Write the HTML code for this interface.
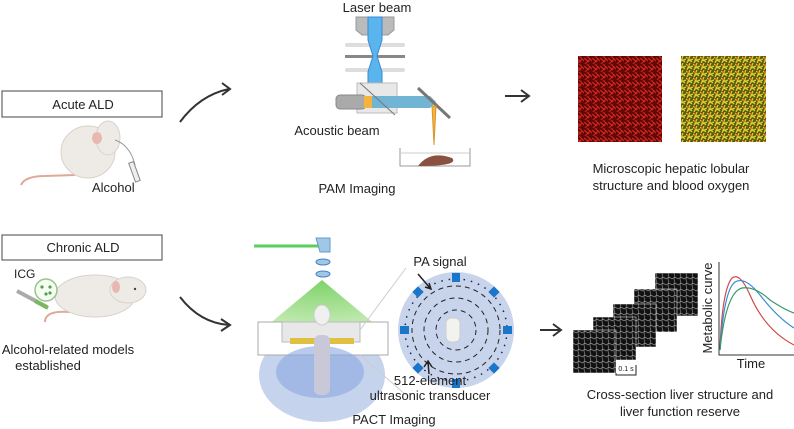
<!DOCTYPE html>
<html><head><meta charset="utf-8"><style>
body{margin:0;background:#fff}
svg{display:block;font-family:"Liberation Sans",sans-serif}
</style></head><body>
<svg width="794" height="429" viewBox="0 0 794 429">
<defs>
<radialGradient id="gc" cx="50%" cy="0%" r="100%"><stop offset="0" stop-color="#7fd36a"/><stop offset="1" stop-color="#c8ecb8"/></radialGradient>
<pattern id="red" width="8" height="8" patternUnits="userSpaceOnUse"><rect width="8" height="8" fill="#5a0a08"/><path d="M0 2L5 6M3 0L8 5M1 8L6 3" stroke="#d8201a" stroke-width="1.2"/></pattern>
<pattern id="yel" width="7" height="7" patternUnits="userSpaceOnUse"><rect width="7" height="7" fill="#5a5a10"/><path d="M0 1L6 6M4 0L1 7M7 3L2 5" stroke="#d8d030" stroke-width="1.3"/><path d="M2 0L2 3" stroke="#c83018" stroke-width="1"/></pattern>
<pattern id="liv" width="6" height="6" patternUnits="userSpaceOnUse"><rect width="6" height="6" fill="#111"/><path d="M0 3Q3 0 6 3M3 6Q1 3 3 0" stroke="#999" stroke-width="0.6" fill="none"/></pattern>
</defs>

<rect x="2" y="91" width="160" height="26" fill="#fff" stroke="#444" stroke-width="1"/>
<text x="83" y="109" font-size="13" text-anchor="middle" fill="#222">Acute ALD</text>
<rect x="2" y="235" width="160" height="25" fill="#fff" stroke="#444" stroke-width="1"/>
<text x="83" y="252" font-size="13" text-anchor="middle" fill="#222">Chronic ALD</text>

<!-- mouse 1 -->
<g>
<path d="M21 185 Q25 176 45 176 L75 175" stroke="#e0a898" stroke-width="2" fill="none"/>
<ellipse cx="88" cy="152" rx="27" ry="26" fill="#eeebe6" stroke="#d8d2ca"/>
<ellipse cx="108" cy="138" rx="12" ry="17" fill="#eeebe6" stroke="#d8d2ca"/>
<ellipse cx="97" cy="138" rx="5" ry="6" fill="#e8b8b0"/>
<path d="M115 140 Q130 145 135 165" stroke="#999" fill="none"/>
<rect x="132" y="162" width="5" height="20" fill="#eee" stroke="#888" transform="rotate(-20 134 172)"/>
</g>
<text x="92" y="192" font-size="13" fill="#222">Alcohol</text>

<!-- mouse 2 -->
<g>
<path d="M45 322 Q45 310 70 312 L80 310" stroke="#e0a898" stroke-width="2" fill="none"/>
<ellipse cx="95" cy="296" rx="40" ry="21" fill="#eeebe6" stroke="#d8d2ca"/>
<ellipse cx="128" cy="290" rx="18" ry="13" fill="#eeebe6" stroke="#d8d2ca"/>
<ellipse cx="116" cy="287" rx="4" ry="6" fill="#e8b8b0"/>
<circle cx="135" cy="289" r="1.2" fill="#444"/>
<circle cx="46" cy="290" r="11" fill="#f4fff0" stroke="#9cc090" stroke-width="1.5"/>
<circle cx="42" cy="287" r="1.6" fill="#5a9a5a"/><circle cx="50" cy="287" r="1.6" fill="#5a9a5a"/><circle cx="46" cy="294" r="1.6" fill="#5a9a5a"/><circle cx="50" cy="293" r="1.6" fill="#5a9a5a"/>
<path d="M17 291 L47 307" stroke="#aaa" stroke-width="4"/>
<path d="M35 301 L48 308" stroke="#7ab860" stroke-width="4"/>
</g>
<text x="14" y="278" font-size="12" fill="#222">ICG</text>
<text x="68" y="354" font-size="13" text-anchor="middle" fill="#222">Alcohol-related models</text>
<text x="48" y="370" font-size="13" text-anchor="middle" fill="#222">established</text>

<path d="M180 122 Q200 95 229 89" stroke="#333" stroke-width="2" fill="none"/>
<path d="M222 83 L230 89 L222 95" stroke="#333" stroke-width="2" fill="none"/>
<path d="M180 297 Q200 323 229 325" stroke="#333" stroke-width="2" fill="none"/>
<path d="M221 319 L230 325 L221 331" stroke="#333" stroke-width="2" fill="none"/>

<!-- PAM -->
<text x="377" y="12" font-size="13" text-anchor="middle" fill="#222">Laser beam</text>
<path d="M356 17 H394 V30 L388 35 H362 L356 30Z" fill="#bbb" stroke="#999"/>
<rect x="345" y="43" width="60" height="4" rx="2" fill="#ddd"/>
<rect x="345" y="55" width="60" height="3" fill="#888"/>
<rect x="345" y="68" width="60" height="4" rx="2" fill="#ddd"/>
<path d="M368 17 H382 V40 L377 56 L382 72 V102 H368 V72 L373 56 L368 40Z" fill="#5ab4ee" stroke="#3a8ad0"/>
<rect x="357" y="83" width="40" height="30" fill="#e8e8e8" stroke="#bbb"/>
<rect x="336" y="95" width="30" height="14" rx="4" fill="#aaa" stroke="#888"/>
<path d="M364 96 H430 L436 102 L430 108 H364Z" fill="#f5b23c"/>
<path d="M372 96 H430 L436 102 L430 108 H372Z" fill="#5ab4ee" opacity=".85"/>
<line x1="360" y1="83" x2="395" y2="115" stroke="#777"/>
<line x1="418" y1="88" x2="450" y2="118" stroke="#777" stroke-width="3"/>
<path d="M432 106 L436 106 L434 145Z" fill="#f5b23c" stroke="#d8962a"/>
<text x="337" y="135" font-size="13" text-anchor="middle" fill="#222">Acoustic beam</text>
<path d="M400 148 V166 H470 V148" fill="none" stroke="#999"/>
<line x1="400" y1="153" x2="470" y2="153" stroke="#ccc"/>
<path d="M418 166 Q430 150 452 158 Q460 166 418 166Z" fill="#8a5040"/>
<text x="357" y="193" font-size="13" text-anchor="middle" fill="#222">PAM Imaging</text>

<path d="M505 96 H528 M521 90 L529 96 L521 102" stroke="#333" stroke-width="2" fill="none"/>
<path d="M540 330 H560 M553 324 L561 330 L553 336" stroke="#333" stroke-width="2" fill="none"/>

<rect x="578" y="56" width="84" height="86" fill="url(#red)"/>
<rect x="681" y="56" width="85" height="86" fill="url(#yel)"/>
<text x="671" y="173" font-size="13" text-anchor="middle" fill="#222">Microscopic hepatic lobular</text>
<text x="671" y="190" font-size="13" text-anchor="middle" fill="#222">structure and blood oxygen</text>

<!-- PACT -->
<line x1="254" y1="246" x2="320" y2="246" stroke="#5ad05a" stroke-width="3"/>
<path d="M316 238 L330 238 L330 252 L320 252Z" fill="#9fc8e8" stroke="#6a9ac8"/>
<ellipse cx="323" cy="262" rx="7" ry="3" fill="#9fc8e8" stroke="#4a80c0"/>
<ellipse cx="323" cy="274" rx="7" ry="3" fill="#9fc8e8" stroke="#4a80c0"/>
<ellipse cx="322" cy="375" rx="63" ry="47" fill="#b8c8e8" opacity=".8"/>
<path d="M322 280 L262 330 L382 330Z" fill="url(#gc)"/>
<path d="M258 322 H388 V355 H258Z" fill="#fff" stroke="#aaa"/>
<path d="M282 322 H360 V342 H282Z" fill="#e8e8e8" stroke="#bbb"/>
<rect x="290" y="338" width="64" height="6" fill="#e0c040"/>
<ellipse cx="320" cy="372" rx="44" ry="26" fill="#8aa8e0" opacity=".6"/>
<ellipse cx="322" cy="315" rx="8" ry="10" fill="#f0f0f0" stroke="#ccc"/>
<rect x="314" y="335" width="16" height="60" rx="6" fill="#c8c8d8"/>
<path d="M360 330 L406 268 M360 355 L406 395" stroke="#ccc" stroke-width="1"/>
<circle cx="456" cy="330" r="58" fill="#c8d4ec"/>
<circle cx="456" cy="330" r="44" fill="none" stroke="#222" stroke-dasharray="5,4"/>
<circle cx="456" cy="330" r="32" fill="none" stroke="#222" stroke-dasharray="5,4"/>
<circle cx="456" cy="330" r="20" fill="none" stroke="#222" stroke-dasharray="5,4"/>
<circle cx="456" cy="330" r="51" fill="none" stroke="#224" stroke-width="1.5" stroke-dasharray="1.5,6"/>
<g fill="#1a76c8">
<rect x="452" y="273" width="8" height="9"/><rect x="452" y="379" width="8" height="9"/>
<rect x="400" y="326" width="9" height="8"/><rect x="503" y="326" width="9" height="8"/>
<rect x="414" y="288" width="8" height="8" transform="rotate(45 418 292)"/>
<rect x="490" y="288" width="8" height="8" transform="rotate(45 494 292)"/>
<rect x="414" y="364" width="8" height="8" transform="rotate(45 418 368)"/>
<rect x="490" y="364" width="8" height="8" transform="rotate(45 494 368)"/>
</g>
<rect x="446" y="318" width="14" height="24" rx="5" fill="#f2f2ee" stroke="#ccc"/>
<text x="440" y="266" font-size="13" text-anchor="middle" fill="#222">PA signal</text>
<path d="M418 274 L430 288 M425 287 L431 289 L429 283" stroke="#222" stroke-width="1.5" fill="none"/>
<path d="M429 374 L428 362 M424 367 L428 361 L432 367" stroke="#222" stroke-width="1.5" fill="none"/>
<text x="430" y="385" font-size="13" text-anchor="middle" fill="#222">512-element</text>
<text x="430" y="400" font-size="13" text-anchor="middle" fill="#222">ultrasonic transducer</text>
<text x="394" y="424" font-size="13" text-anchor="middle" fill="#222">PACT Imaging</text>

<g stroke="#fff" stroke-width="0.5">
<rect x="655" y="273" width="43" height="43" fill="url(#liv)"/>
<rect x="634" y="289" width="43" height="43" fill="url(#liv)"/>
<rect x="613" y="304" width="43" height="43" fill="url(#liv)"/>
<rect x="593" y="317" width="43" height="43" fill="url(#liv)"/>
<rect x="573" y="330" width="43" height="43" fill="url(#liv)"/>
</g>
<path d="M616 373 V375 H636 V365" stroke="#222" fill="none"/>
<text x="626" y="371" font-size="7" text-anchor="middle" fill="#222">0.1 s</text>

<path d="M719 262 V355 H794" stroke="#333" fill="none"/>
<path d="M720 350 Q722 290 732 278 Q740 272 750 295 Q765 330 794 345" stroke="#d04848" fill="none" stroke-width="1.2"/>
<path d="M720 350 Q724 290 735 282 Q745 276 760 295 Q778 318 794 328" stroke="#3a8ad0" fill="none" stroke-width="1.2"/>
<path d="M720 350 Q726 292 742 288 Q755 286 770 300 Q785 310 794 313" stroke="#3a9a6a" fill="none" stroke-width="1.2"/>
<text x="712" y="308" font-size="13" text-anchor="middle" fill="#222" transform="rotate(-90 712 308)">Metabolic curve</text>
<text x="751" y="368" font-size="13" text-anchor="middle" fill="#222">Time</text>

<text x="680" y="399" font-size="13" text-anchor="middle" fill="#222">Cross-section liver structure and</text>
<text x="680" y="416" font-size="13" text-anchor="middle" fill="#222">liver function reserve</text>
</svg>
</body></html>
